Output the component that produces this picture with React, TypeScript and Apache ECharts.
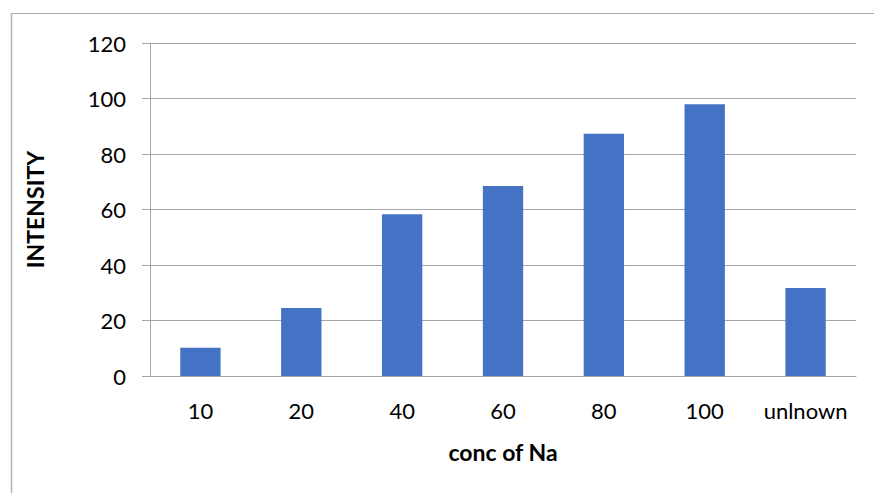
import React, { useEffect, useRef } from "react";
import * as echarts from "echarts";

const categories = ["10", "20", "40", "60", "80", "100", "unlnown"];
const intensity = [10.2, 24.5, 58.3, 68.5, 87.3, 97.9, 31.7];
const yTicks = { min: 0, max: 120, interval: 20 };
const xTitle = "conc of Na";
const yTitle = "INTENSITY";

const FONT = "Lato, 'Open Sans', sans-serif";

export default function App() {
  const ref = useRef<HTMLDivElement>(null);
  useEffect(() => {
    if (!ref.current) return;
    const chart = echarts.init(ref.current, undefined, { renderer: "svg" });
    chart.setOption({
      animation: false,
      backgroundColor: "#ffffff",
      textStyle: { fontFamily: FONT },
      grid: { left: 150, right: 18, top: 43, bottom: 117 },
      xAxis: {
        type: "category",
        data: categories,
        axisLine: { show: true, lineStyle: { color: "#a6a6a6", width: 1 } },
        axisTick: { show: false },
        axisLabel: { color: "#000", fontSize: 22, margin: 23, interval: 0, fontFamily: FONT },
        name: xTitle,
        nameLocation: "middle",
        nameGap: 64,
        nameTextStyle: { color: "#000", fontSize: 23, fontWeight: "bold", fontFamily: FONT },
      },
      yAxis: {
        type: "value",
        min: yTicks.min,
        max: yTicks.max,
        interval: yTicks.interval,
        axisLine: { show: true, lineStyle: { color: "#a6a6a6", width: 1 } },
        axisTick: { show: true, length: 8, inside: false, lineStyle: { color: "#a6a6a6" } },
        axisLabel: { color: "#000", fontSize: 22, margin: 24, fontFamily: FONT },
        splitLine: { show: true, lineStyle: { color: "#a6a6a6", width: 1 } },
        name: yTitle,
        nameLocation: "middle",
        nameGap: 104,
        nameRotate: 90,
        nameTextStyle: { color: "#000", fontSize: 23, fontWeight: "bold", fontFamily: FONT },
      },
      series: [
        {
          type: "bar",
          data: intensity,
          barWidth: "40%",
          itemStyle: { color: "#4472C4" },
        },
      ],
      graphic: [
        { type: "line", shape: { x1: 11, y1: 13.5, x2: 874, y2: 13.5 }, style: { stroke: "#a6a6a6", lineWidth: 1 } },
        { type: "line", shape: { x1: 11.5, y1: 13, x2: 11.5, y2: 493 }, style: { stroke: "#b4b4b4", lineWidth: 1.5 } },
      ],
    });
    return () => chart.dispose();
  }, []);
  return (
    <div
      ref={ref}
      style={{ position: "fixed", left: 0, top: 0, width: 874, height: 493 }}
    />
  );
}
